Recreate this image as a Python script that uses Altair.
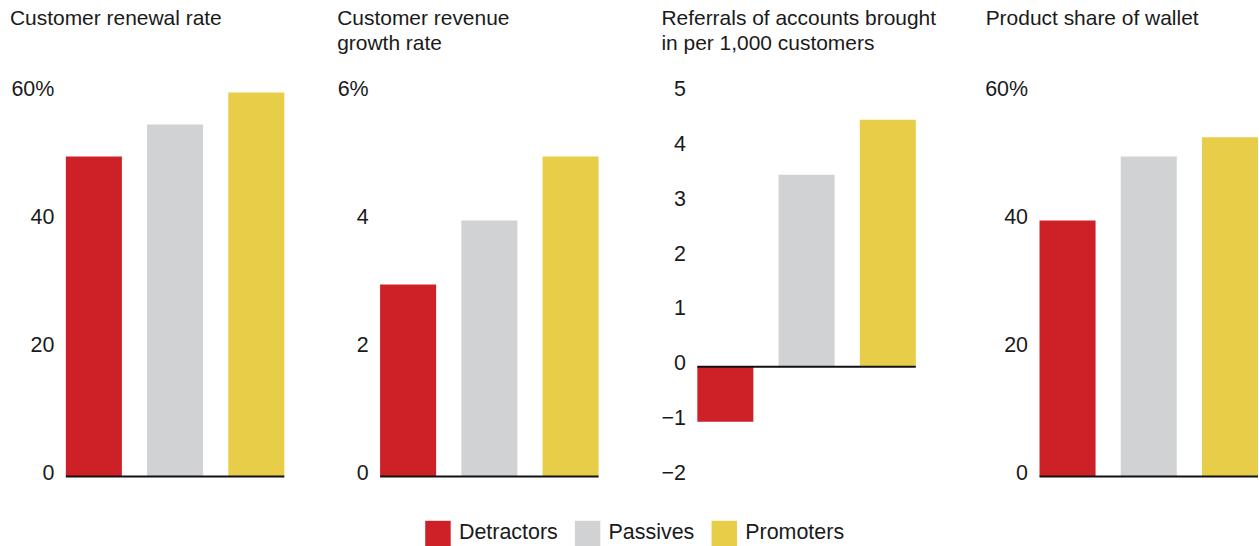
import altair as alt
import pandas as pd

groups = ["Detractors", "Passives", "Promoters"]
colors = ["#CD2027", "#D1D2D4", "#E8CD48"]

renewal = [50, 55, 60]
revenue_growth = [3, 4, 5]
referrals = [-1, 3.5, 4.5]
share_wallet = [40, 50, 53]

FONT = "Liberation Sans, Arial, Helvetica, sans-serif"
TEXT = "#1a1a1a"


def panel(values, domain, ticks, top_label, title_lines, ext, dx):
    df = pd.DataFrame({"group": groups, "value": values})
    label_expr = f"datum.value == {ticks[-1]} ? '{top_label}' : datum.label"
    bars = alt.Chart(df).mark_bar().encode(
        x=alt.X("group:N", sort=groups, axis=None,
                scale=alt.Scale(paddingInner=0.31, paddingOuter=0)),
        y=alt.Y("value:Q",
                scale=alt.Scale(domain=domain, nice=False, zero=False),
                axis=alt.Axis(values=ticks, format="d", labelExpr=label_expr,
                              minExtent=ext, labelPadding=12, labelOffset=-3,
                              ticks=False, domain=False, grid=False, title=None,
                              labelFontSize=21.5, labelFont=FONT,
                              labelColor=TEXT)),
        color=alt.Color("group:N",
                        scale=alt.Scale(domain=groups, range=colors),
                        legend=alt.Legend(title=None, orient="none",
                                          direction="horizontal",
                                          legendX=360, legendY=429,
                                          symbolType="square", symbolSize=650,
                                          symbolStrokeWidth=0, labelFontSize=21.5,
                                          labelFont=FONT, labelColor=TEXT,
                                          columnPadding=16, labelOffset=8)),
    )
    zero = alt.Chart(pd.DataFrame({"zero": [0]})).mark_rule(
        color="#111111", strokeWidth=2).encode(y="zero:Q")
    return alt.layer(bars, zero).properties(
        width=219, height=385,
        title=alt.TitleParams(title_lines, anchor="start", frame="group", dx=dx,
                              fontSize=21, font=FONT, fontWeight="normal",
                              color=TEXT, lineHeight=25, offset=25),
    )


p1 = panel(renewal, [0, 60], [0, 20, 40, 60], "60%",
           ["Customer renewal rate", ""], 56, -56)
p2 = panel(revenue_growth, [0, 6], [0, 2, 4, 6], "6%",
           ["Customer revenue", "growth rate"], 85, -43)
p3 = panel(referrals, [-2, 5], [-2, -1, 0, 1, 2, 3, 4, 5], "5",
           ["Referrals of accounts brought", "in per 1,000 customers"], 88, -36)
p4 = panel(share_wallet, [0, 60], [0, 20, 40, 60], "60%",
           ["Product share of wallet", ""], 93, -54)

chart = alt.hconcat(p1, p2, p3, p4, spacing=10).resolve_scale(
    y="independent", x="independent"
).properties(
    padding={"left": 10, "top": 7, "right": 0, "bottom": 0},
    background="white",
).configure_view(stroke=None)

chart.save("out.html", embed_options={"renderer": "svg", "actions": False})
